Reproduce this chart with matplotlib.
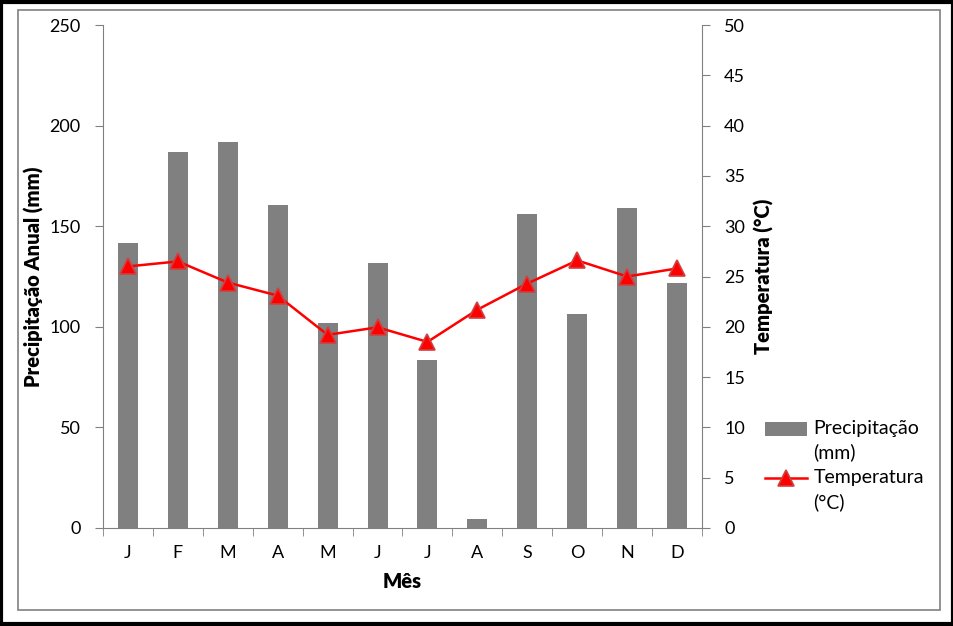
import matplotlib
matplotlib.use("Agg")
import matplotlib.pyplot as plt
from matplotlib.patches import Rectangle
from matplotlib.legend_handler import HandlerPatch, HandlerLine2D
import numpy as np

months = ["J", "F", "M", "A", "M", "J", "J", "A", "S", "O", "N", "D"]
precip = [141.6, 186.9, 191.8, 160.5, 101.9, 131.7, 83.5, 4.5, 156.0, 106.4, 159.0, 121.8]
temp = [26.0, 26.5, 24.4, 23.1, 19.2, 19.95, 18.5, 21.7, 24.3, 26.6, 25.0, 25.8]
left_ticks = [0, 50, 100, 150, 200, 250]
right_ticks = [0, 5, 10, 15, 20, 25, 30, 35, 40, 45, 50]

plt.rcParams['font.family'] = ['Lato', 'DejaVu Sans']
grey = '#808080'


class ShiftPatch(HandlerPatch):
    def create_artists(self, legend, orig_handle, xdescent, ydescent, width, height, fontsize, trans):
        return super().create_artists(legend, orig_handle, xdescent, ydescent - 0.6 * fontsize,
                                      width, height, fontsize, trans)


class ShiftLine(HandlerLine2D):
    def create_artists(self, legend, orig_handle, xdescent, ydescent, width, height, fontsize, trans):
        return super().create_artists(legend, orig_handle, xdescent, ydescent - 1.2 * fontsize,
                                      width, height, fontsize, trans)


fig = plt.figure(figsize=(9.54, 6.26), dpi=100)
# outer borders
fig.patches.append(Rectangle((0.0015, 0.0025), 0.997, 0.995, transform=fig.transFigure,
                             fill=False, edgecolor='black', linewidth=3))
fig.patches.append(Rectangle((18/954, 1-610/626), (940-18)/954, (610-10)/626, transform=fig.transFigure,
                             fill=False, edgecolor=grey, linewidth=1.2))

ax = fig.add_axes([103/954, 1-528/626, (702-103)/954, (528-25)/626])
x = np.arange(len(months))
bars = ax.bar(x, precip, width=0.4, color=grey, label='Precipitação\n(mm)', zorder=2)
ax.set_xlim(-0.5, 11.5)
ax.set_ylim(0, 250)
ax.set_yticks(left_ticks)
ax.set_xticks(x)
ax.set_xticklabels(months)
ax.set_xticks(np.arange(-0.5, 12, 1), minor=True)
ax.tick_params(axis='x', which='major', length=0, pad=12, labelsize=13)
ax.tick_params(axis='x', which='minor', length=6, color=grey, direction='out')
ax.tick_params(axis='y', length=6, color=grey, direction='out', labelsize=13, pad=10)
for s in ['top', 'right']:
    ax.spines[s].set_visible(False)
for s in ['left', 'bottom']:
    ax.spines[s].set_color(grey)
ax.set_ylabel('Precipitação Anual (mm)', fontsize=14.5, fontweight='heavy', labelpad=4)
ax.set_xlabel('Mês', fontsize=14.5, fontweight='heavy', labelpad=8)

ax2 = ax.twinx()
line, = ax2.plot(x, temp, color='red', linewidth=1.8, marker='^', markersize=12,
                 markerfacecolor='red', markeredgecolor='#d04040', markeredgewidth=1.2,
                 label='Temperatura\n(°C)', zorder=3)
ax2.set_ylim(0, 50)
ax2.set_yticks(right_ticks)
ax2.tick_params(axis='y', length=6, color=grey, direction='out', labelsize=13, pad=10)
for s in ['top', 'left', 'bottom']:
    ax2.spines[s].set_visible(False)
ax2.spines['right'].set_color(grey)
ax2.set_ylabel('Temperatura (°C)', fontsize=14.5, fontweight='heavy', labelpad=6)

leg = fig.legend([bars.patches[0], line], ['Precipitação\n(mm)', 'Temperatura\n(°C)'],
                 loc='upper left', bbox_to_anchor=(755/954, 1-410/626),
                 frameon=False, fontsize=14, handlelength=2.2, handletextpad=0.3,
                 labelspacing=0.4, borderpad=0,
                 handler_map={bars.patches[0]: ShiftPatch(), line: ShiftLine()})
for t in leg.get_texts():
    t.set_linespacing(1.45)

fig.savefig('out.png', dpi=100)
